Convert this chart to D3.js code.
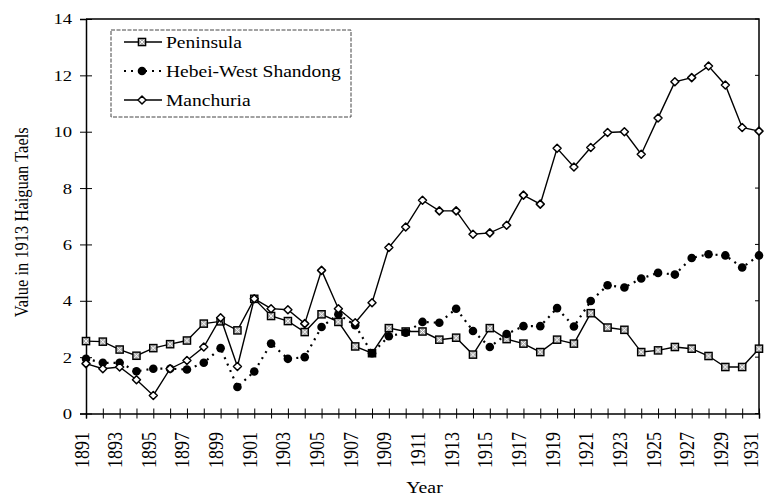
<!DOCTYPE html>
<html>
<head>
<meta charset="utf-8">
<script src="https://cdn.jsdelivr.net/npm/d3@7"></script>
<style>
  html, body { margin: 0; padding: 0; background: #fff; }
  svg { display: block; font-family: "Liberation Serif", "Times New Roman", serif; }
</style>
</head>
<body>
<div id="chart"></div>
<script>
// years on the x axis
var years = [1891, 1892, 1893, 1894, 1895, 1896, 1897, 1898, 1899, 1900,
             1901, 1902, 1903, 1904, 1905, 1906, 1907, 1908, 1909, 1910,
             1911, 1912, 1913, 1914, 1915, 1916, 1917, 1918, 1919, 1920,
             1921, 1922, 1923, 1924, 1925, 1926, 1927, 1928, 1929, 1930, 1931];

var yearLabels = [1891, 1893, 1895, 1897, 1899, 1901, 1903, 1905, 1907, 1909, 1911,
                  1913, 1915, 1917, 1919, 1921, 1923, 1925, 1927, 1929, 1931];

var valueTicks = [0, 2, 4, 6, 8, 10, 12, 14];

var seriesNames = ["Peninsula", "Hebei-West Shandong", "Manchuria"];

var peninsula = [2.57, 2.55, 2.27, 2.05, 2.32, 2.46, 2.59, 3.19, 3.27, 2.95,
                 4.07, 3.46, 3.28, 2.89, 3.52, 3.25, 2.38, 2.14, 3.03, 2.91,
                 2.91, 2.62, 2.69, 2.09, 3.03, 2.64, 2.48, 2.18, 2.62, 2.48,
                 3.56, 3.05, 2.97, 2.18, 2.24, 2.36, 2.30, 2.04, 1.65, 1.65, 2.30];

var hebei = [1.94, 1.80, 1.80, 1.50, 1.59, 1.59, 1.56, 1.80, 2.32, 0.94,
             1.49, 2.48, 1.94, 2.00, 3.07, 3.52, 3.13, 2.14, 2.74, 2.87,
             3.25, 3.22, 3.72, 2.93, 2.36, 2.82, 3.10, 3.10, 3.74, 3.09,
             3.99, 4.55, 4.47, 4.79, 4.99, 4.93, 5.52, 5.65, 5.61, 5.18, 5.61];

var manchuria = [1.77, 1.59, 1.65, 1.20, 0.64, 1.59, 1.88, 2.36, 3.40, 1.67,
                 4.07, 3.72, 3.68, 3.19, 5.08, 3.72, 3.22, 3.93, 5.89, 6.62,
                 7.57, 7.19, 7.19, 6.36, 6.41, 6.68, 7.75, 7.43, 9.41, 8.75,
                 9.44, 9.97, 10.00, 9.20, 10.49, 11.77, 11.92, 12.33, 11.66, 10.15, 10.02];

var W = 764, H = 499;
var plot = { left: 86, right: 759, top: 19, bottom: 413.5 };

var svg = d3.select("#chart").append("svg")
  .attr("width", W)
  .attr("height", H);

var x = d3.scaleLinear().domain([1891, 1931]).range([plot.left, plot.right]);
var y = d3.scaleLinear().domain([0, 14]).range([plot.bottom, plot.top]);

// frame (top and right sides)
svg.append("path")
  .attr("d", "M" + plot.left + "," + plot.top + "H" + plot.right + "V" + plot.bottom)
  .attr("fill", "none")
  .attr("stroke", "#000")
  .attr("stroke-width", 1.5);

// y axis, ticks cross the line
var yAxis = svg.append("g")
  .attr("transform", "translate(" + plot.left + ",0)")
  .call(d3.axisLeft(y).tickValues(valueTicks).tickSize(6).tickPadding(14).tickFormat(d3.format("d")));
yAxis.select(".domain").attr("stroke-width", 1.5);
yAxis.selectAll(".tick line").attr("x2", 6).attr("x1", -6);
yAxis.selectAll(".tick text")
  .attr("font-size", 15.5)
  .attr("font-family", "Liberation Serif, serif")
  .attr("fill", "#000")
  .attr("text-anchor", "end")
  .attr("x", null)
  .attr("transform", "translate(-14,0) scale(1.2,1)");

// small ticks on the right border
svg.append("g").selectAll("line")
  .data(valueTicks)
  .enter().append("line")
  .attr("x1", plot.right - 4).attr("x2", plot.right)
  .attr("y1", function (d) { return y(d); })
  .attr("y2", function (d) { return y(d); })
  .attr("stroke", "#000");

// x axis, one tick per year
var xAxis = svg.append("g")
  .attr("transform", "translate(0," + plot.bottom + ")")
  .call(d3.axisBottom(x).tickValues(years).tickSize(5).tickFormat(""));
xAxis.select(".domain").attr("stroke-width", 1.5);
xAxis.selectAll(".tick line").attr("y1", -5).attr("y2", 5);

svg.append("g").selectAll("text")
  .data(yearLabels)
  .enter().append("text")
  .attr("transform", function (d) {
    var bx = Math.min(x(d) + 2.5, W - 6);
    return "translate(" + bx + "," + 432 + ") scale(1.2,1) rotate(-90)";
  })
  .attr("text-anchor", "end")
  .attr("font-size", 18)
  .text(function (d) { return d; });

// axis titles
svg.append("text")
  .attr("transform", "translate(28," + ((plot.top + plot.bottom) / 2 + 6) + ") scale(1.2,1) rotate(-90)")
  .attr("text-anchor", "middle")
  .attr("font-size", 16.5)
  .text("Value in 1913 Haiguan Taels");

svg.append("text")
  .attr("transform", "translate(" + ((plot.left + plot.right) / 2 + 2) + ",493) scale(1.2,1)")
  .attr("text-anchor", "middle")
  .attr("font-size", 16.5)
  .text("Year");

// series
var series = [
  { name: seriesNames[0], values: peninsula, dash: null, width: 1.4, marker: "square" },
  { name: seriesNames[1], values: hebei, dash: "2,5", width: 2.2, marker: "dot" },
  { name: seriesNames[2], values: manchuria, dash: null, width: 1.4, marker: "diamond" }
];

var line = d3.line()
  .x(function (d) { return x(d.year); })
  .y(function (d) { return y(d.value); });

function drawMarker(g, type) {
  if (type === "square") {
    g.append("rect").attr("x", -3.6).attr("y", -3.6).attr("width", 7.2).attr("height", 7.2)
      .attr("fill", "#aaa").attr("stroke", "#000").attr("stroke-width", 1.4);
    g.append("path").attr("d", "M-2.3,-2.3L2.3,2.3M-2.3,2.3L2.3,-2.3")
      .attr("stroke", "#fff").attr("stroke-width", 0.9);
  } else if (type === "dot") {
    g.append("circle").attr("r", 4.3).attr("fill", "#000");
  } else {
    g.append("path").attr("d", "M0,-4L4,0L0,4L-4,0Z")
      .attr("fill", "#fff").attr("stroke", "#000").attr("stroke-width", 1.5)
      .attr("stroke-linejoin", "round");
  }
}

series.forEach(function (s) {
  var pts = years.map(function (yr, i) { return { year: yr, value: s.values[i] }; });
  svg.append("path")
    .datum(pts)
    .attr("d", line)
    .attr("fill", "none")
    .attr("stroke", "#000")
    .attr("stroke-width", s.width)
    .attr("stroke-dasharray", s.dash);
  svg.append("g").selectAll("g")
    .data(pts)
    .enter().append("g")
    .attr("transform", function (d) { return "translate(" + x(d.year) + "," + y(d.value) + ")"; })
    .each(function () { drawMarker(d3.select(this), s.marker); });
});

// legend
var legend = svg.append("g");
legend.append("rect")
  .attr("x", 111).attr("y", 30).attr("width", 240).attr("height", 87)
  .attr("fill", "#fff")
  .attr("stroke", "#444")
  .attr("stroke-width", 1)
  .attr("stroke-dasharray", "4,1.5");

series.forEach(function (s, i) {
  var cy = 42 + i * 29;
  var g = legend.append("g");
  g.append("line")
    .attr("x1", 124).attr("x2", 162).attr("y1", cy).attr("y2", cy)
    .attr("stroke", "#000")
    .attr("stroke-width", s.width)
    .attr("stroke-dasharray", s.dash);
  drawMarker(g.append("g").attr("transform", "translate(142," + cy + ")"), s.marker);
  g.append("text")
    .attr("transform", "translate(166," + (cy + 5.5) + ") scale(1.15,1)")
    .attr("font-size", 17)
    .text(s.name);
});
</script>
</body>
</html>
